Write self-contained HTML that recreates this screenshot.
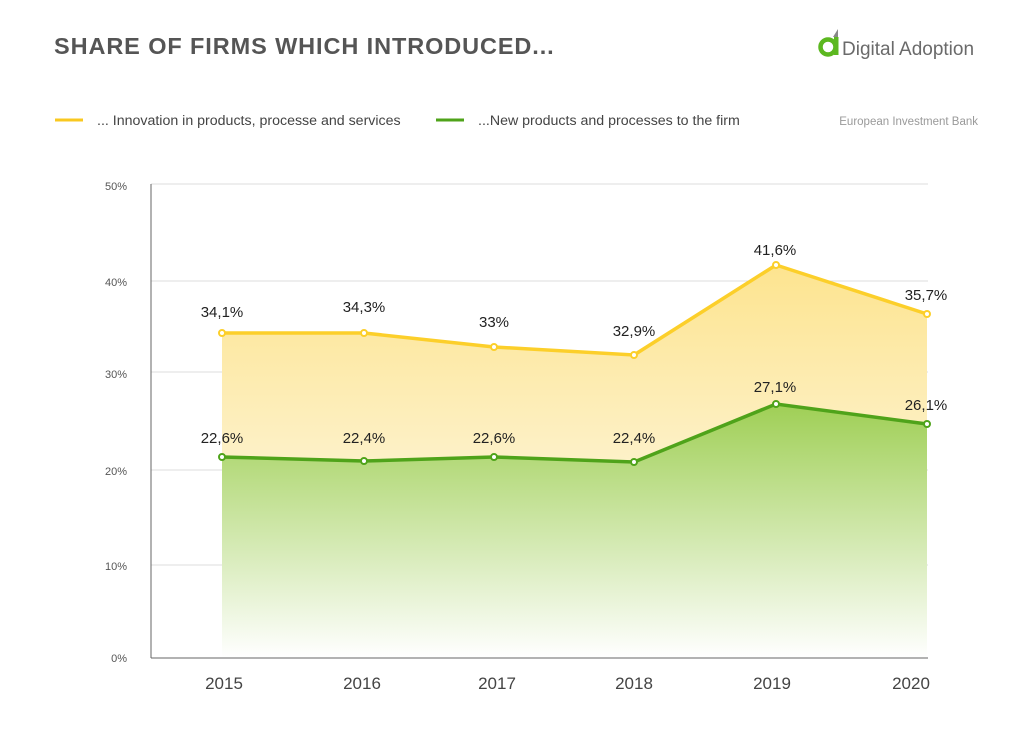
<!DOCTYPE html>
<html><head><meta charset="utf-8"><style>
body{margin:0;background:#fff;width:1024px;height:745px;overflow:hidden;font-family:"Liberation Sans",sans-serif}
</style></head><body>
<svg width="1024" height="745" xmlns="http://www.w3.org/2000/svg" font-family="Liberation Sans, sans-serif">
<defs>
<linearGradient id="gy" x1="0" y1="0" x2="0" y2="1"><stop offset="0" stop-color="#fde48f"/><stop offset="1" stop-color="#fdf1c8"/></linearGradient>
<linearGradient id="gg" x1="0" y1="0" x2="0" y2="1"><stop offset="0" stop-color="#9fcf55"/><stop offset="1" stop-color="#ffffff"/></linearGradient>
</defs>
<text x="54" y="54" font-size="23.5" font-weight="bold" fill="#555" letter-spacing="0.9">SHARE OF FIRMS WHICH INTRODUCED...</text>
<circle cx="828" cy="47" r="7.5" fill="none" stroke="#5cb820" stroke-width="4.5"/>
<rect x="834" y="37" width="4.5" height="18" fill="#5cb820"/>
<path d="M833 37 L838 29 L838 37 Z" fill="#888"/>
<text x="842" y="55" font-size="19" fill="#6a6a6a">Digital Adoption</text>
<line x1="55" y1="120" x2="83" y2="120" stroke="#f9c820" stroke-width="3"/>
<text x="97" y="125" font-size="14.2" fill="#444">... Innovation in products, processe and services</text>
<line x1="436" y1="120" x2="464" y2="120" stroke="#4fa31a" stroke-width="3"/>
<text x="478" y="125" font-size="14.2" fill="#444">...New products and processes to the firm</text>
<text x="978" y="125" font-size="11.5" fill="#999" text-anchor="end">European Investment Bank</text>
<g stroke="#ddd" stroke-width="1">
<line x1="151" y1="184" x2="928" y2="184"/><line x1="151" y1="281" x2="928" y2="281"/><line x1="151" y1="372" x2="928" y2="372"/><line x1="151" y1="470" x2="928" y2="470"/><line x1="151" y1="565" x2="928" y2="565"/>
</g>
<g font-size="11" fill="#555" text-anchor="end">
<text x="127" y="190">50%</text><text x="127" y="286">40%</text><text x="127" y="378">30%</text><text x="127" y="475">20%</text><text x="127" y="570">10%</text><text x="127" y="662">0%</text>
</g>
<polygon points="222,333 364,333 494,347 634,355 776,265 927,314 927,424 776,404 634,462 494,457 364,461 222,457" fill="url(#gy)"/>
<polygon points="222,457 364,461 494,457 634,462 776,404 927,424 927,658 222,658" fill="url(#gg)"/>
<line x1="151" y1="184" x2="151" y2="658" stroke="#666" stroke-width="1"/>
<line x1="151" y1="658" x2="928" y2="658" stroke="#666" stroke-width="1"/>
<polyline points="222,333 364,333 494,347 634,355 776,265 927,314" fill="none" stroke="#fccf2a" stroke-width="3.5"/>
<polyline points="222,457 364,461 494,457 634,462 776,404 927,424" fill="none" stroke="#4fa31a" stroke-width="3.5"/>
<g fill="#fff" stroke="#fccf2a" stroke-width="2">
<circle cx="222" cy="333" r="3"/><circle cx="364" cy="333" r="3"/><circle cx="494" cy="347" r="3"/><circle cx="634" cy="355" r="3"/><circle cx="776" cy="265" r="3"/><circle cx="927" cy="314" r="3"/></g>
<g fill="#fff" stroke="#4fa31a" stroke-width="2">
<circle cx="222" cy="457" r="3"/><circle cx="364" cy="461" r="3"/><circle cx="494" cy="457" r="3"/><circle cx="634" cy="462" r="3"/><circle cx="776" cy="404" r="3"/><circle cx="927" cy="424" r="3"/></g>
<g font-size="15" fill="#222" text-anchor="middle">
<text x="222" y="317">34,1%</text><text x="364" y="312">34,3%</text><text x="494" y="327">33%</text><text x="634" y="336">32,9%</text><text x="775" y="255">41,6%</text><text x="926" y="300">35,7%</text>
<text x="222" y="443">22,6%</text><text x="364" y="443">22,4%</text><text x="494" y="443">22,6%</text><text x="634" y="443">22,4%</text><text x="775" y="392">27,1%</text><text x="926" y="410">26,1%</text>
</g>
<g font-size="17" fill="#444" text-anchor="middle">
<text x="224" y="689">2015</text><text x="362" y="689">2016</text><text x="497" y="689">2017</text><text x="634" y="689">2018</text><text x="772" y="689">2019</text><text x="911" y="689">2020</text>
</g>
</svg>
</body></html>
